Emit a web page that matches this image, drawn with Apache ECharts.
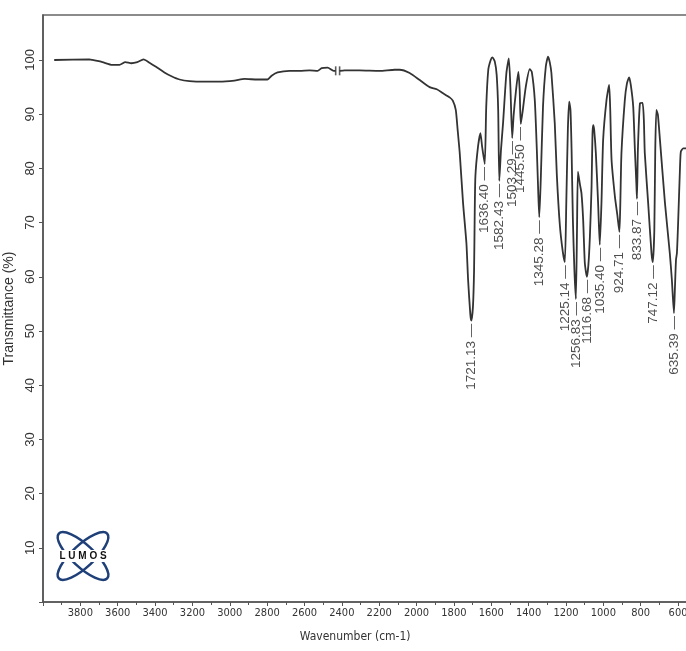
<!DOCTYPE html>
<html>
<head>
<meta charset="utf-8">
<script src="https://cdn.jsdelivr.net/npm/echarts@6/dist/echarts.min.js"></script>
<style>
html,body{margin:0;padding:0;background:#fff;}
#chart{width:686px;height:651px;}
</style>
</head>
<body>
<div id="chart"></div>
<script>
// ---- Data ----
const wavenumber = [
  3940, 3752, 3736, 3682, 3629, 3591, 3559, 3527, 3495, 3462, 3430, 3393, 3350, 3312, 3269, 3216,
  3135, 3055, 2975, 2921, 2851, 2798, 2776, 2744, 2680, 2626, 2573, 2530, 2508, 2476, 2444, 2433,
  2422,
  2412, 2385, 2305, 2198, 2117, 2090, 2037, 1983, 1930, 1892, 1860, 1823, 1806, 1790, 1780, 1769,
  1751, 1733, 1724, 1712, 1707, 1698, 1692, 1689, 1685, 1671, 1658, 1649, 1635, 1627, 1616, 1603,
  1594, 1581, 1571, 1563, 1557, 1548, 1537, 1519, 1506, 1497, 1488, 1480, 1469, 1455, 1448, 1442,
  1431, 1415, 1394, 1383, 1367, 1356, 1348, 1343, 1335, 1323, 1308, 1296, 1287, 1278, 1260, 1249,
  1233, 1217, 1206, 1198, 1190, 1183, 1176, 1170, 1163, 1155, 1147, 1141, 1136, 1125, 1117, 1108,
  1099, 1088, 1080, 1072, 1063, 1058, 1054, 1049, 1040, 1028, 1019, 1010, 1001, 983, 969, 963,
  956, 938, 925, 914, 909, 903, 885, 874, 862, 853, 840, 831, 823, 820, 815, 804,
  790, 783, 778, 760, 742, 735, 727, 722, 716, 708, 697, 670, 644, 633, 622, 617,
  611, 606, 599, 590, 585, 572, 558, 540
];
const transmittance = [
  100.0, 100.1, 100.0, 99.6, 99.1, 99.1, 99.6, 99.4, 99.6, 100.1, 99.5, 98.7, 97.7, 97.0, 96.4, 96.1,
  96.0, 96.0, 96.2, 96.5, 96.4, 96.4, 97.1, 97.7, 98.0, 98.0, 98.1, 98.0, 98.5, 98.6, 98.0, 98.0,
  null,
  98.0, 98.1, 98.1, 98.0, 98.2, 98.2, 97.6, 96.3, 95.0, 94.6, 93.9, 93.1, 92.5, 90.8, 87.1, 82.9,
  73.6, 66.2, 59.4, 53.0, 51.9, 54.5, 61.3, 70.5, 78.5, 84.0, 86.5, 84.0, 80.8, 91.3, 98.2, 100.0,
  100.5, 99.7, 97.2, 90.8, 77.7, 83.4, 88.3, 97.6, 100.3, 94.5, 85.6, 89.9, 93.9, 97.8, 94.5, 88.2,
  90.8, 95.1, 98.3, 97.8, 92.6, 83.4, 75.1, 71.0, 77.9, 91.4, 98.8, 100.6, 99.6, 97.6, 88.3, 78.8,
  69.6, 64.6, 62.7, 74.2, 87.1, 92.3, 90.8, 83.4, 70.5, 61.3, 55.9, 68.6, 79.4, 77.0, 75.4, 70.5,
  62.5, 60.0, 62.2, 67.4, 76.6, 86.5, 88.0, 87.1, 82.8, 73.6, 65.9, 73.6, 85.3, 92.6, 95.4, 90.8,
  81.6, 74.8, 71.4, 68.3, 73.6, 82.8, 92.6, 95.6, 96.8, 95.4, 91.4, 83.4, 77.0, 74.4, 83.4, 92.0,
  92.1, 88.9, 82.8, 73.6, 64.3, 62.7, 68.6, 83.4, 90.8, 89.9, 85.3, 73.6, 64.3, 59.4, 53.3, 57.6,
  63.1, 64.4, 70.5, 79.7, 83.1, 83.7, 83.7, 83.7
];
// Peak annotations (printed value, drawn position)
const peakLabels = ['1721.13','1636.40','1582.43','1503.29','1445.50','1345.28','1225.14','1256.83','1116.68','1035.40','924.71','833.87','747.12','635.39'];
const peakWave   = [1707, 1635, 1557, 1488, 1442, 1343, 1206, 1147, 1088, 1019, 914, 820, 735, 622];
const peakT      = [51.9, 80.8, 77.7, 85.6, 88.2, 71.0, 62.7, 55.9, 60.0, 65.9, 68.3, 74.4, 62.7, 53.3];
// Break markers on the baseline
const breakWave = [2433, 2412];
const breakT    = [98.0, 98.0];

const narrow = "'Liberation Sans Narrow','Arial Narrow','DejaVu Sans Condensed','Liberation Sans',Arial,sans-serif";
const normal = "'Liberation Sans',Arial,sans-serif";

const chart = echarts.init(document.getElementById('chart'), null, {renderer:'canvas'});
const lineData = wavenumber.map((w, i) => [w, transmittance[i]]);
const peakData = peakLabels.map((t, i) => ({name: t, value: [peakWave[i], peakT[i]]}));
const breakData = breakWave.map((w, i) => [w, breakT[i]]);

chart.setOption({
  animation: false,
  backgroundColor: '#fff',
  grid: {left: 43, top: 15, right: -29.4, bottom: 49, show: true, borderColor: '#666', borderWidth: 1.6,
    containLabel: false, outerBoundsMode: 'none'},
  xAxis: {
    type: 'value', inverse: true, min: 400, max: 4000, interval: 200,
    axisLine: {show: true, lineStyle: {color: '#555', width: 1.5}},
    axisTick: {show: true, length: 4, lineStyle: {color: '#555'}},
    minorTick: {show: true, splitNumber: 2, length: 3, lineStyle: {color: '#555'}},
    splitLine: {show: false},
    axisLabel: {margin: 6, fontSize: 11, fontFamily: narrow, color: '#333',
      formatter: v => (v >= 4000 || v < 600) ? '' : String(v)},
    name: 'Wavenumber (cm-1)', nameLocation: 'middle', nameGap: 29,
    nameTextStyle: {fontSize: 12, fontFamily: narrow, color: '#333', padding: [0, 48, 0, 0]}
  },
  yAxis: {
    type: 'value', min: 0, max: 108.3, interval: 10,
    axisLine: {show: true, lineStyle: {color: '#555', width: 1.5}},
    axisTick: {show: true, length: 4, lineStyle: {color: '#555'}},
    splitLine: {show: false},
    axisLabel: {rotate: 90, margin: 6, fontSize: 13, fontFamily: normal, color: '#333', showMaxLabel: false,
      formatter: v => (v > 0 && v <= 100 && Math.abs(v % 10) < 1e-6) ? String(v) : ''},
    name: 'Transmittance (%)', nameLocation: 'middle', nameGap: 20,
    nameTextStyle: {fontSize: 14, fontFamily: normal, color: '#333'}
  },
  series: [
    {
      type: 'line', data: lineData, showSymbol: false, smooth: 0.2, connectNulls: false,
      lineStyle: {color: '#333', width: 1.8}, silent: true, z: 3
    },
    {
      type: 'scatter', data: breakData, symbol: 'rect', symbolSize: [1.6, 9],
      itemStyle: {color: '#333'}, silent: true, z: 3
    },
    {
      type: 'scatter', data: peakData, symbolSize: 0, silent: true, z: 4,
      label: {show: true, position: 'bottom', distance: 3, rotate: 90, align: 'right', verticalAlign: 'middle',
        fontSize: 13.5, fontFamily: normal, color: '#222', formatter: p => p.name + ' \u2014'}
    }
  ],
  graphic: [
    {type: 'ellipse', shape: {cx: 0, cy: 0, rx: 33, ry: 11}, x: 83, y: 556, rotation: Math.PI / 4.2,
      style: {fill: null, stroke: '#1e3f78', lineWidth: 2.5}, z: 10},
    {type: 'ellipse', shape: {cx: 0, cy: 0, rx: 33, ry: 11}, x: 83, y: 556, rotation: -Math.PI / 4.2,
      style: {fill: null, stroke: '#1e3f78', lineWidth: 2.5}, z: 10},
    {type: 'rect', shape: {x: 55, y: 550, width: 57, height: 12}, style: {fill: '#fff'}, z: 11},
    {type: 'text', x: 83, y: 556, style: {text: 'L U M O S', fontSize: 10, fontWeight: 'bold', fontFamily: normal,
      fill: '#111', align: 'center', verticalAlign: 'middle'}, z: 12}
  ]
});
</script>
</body>
</html>
